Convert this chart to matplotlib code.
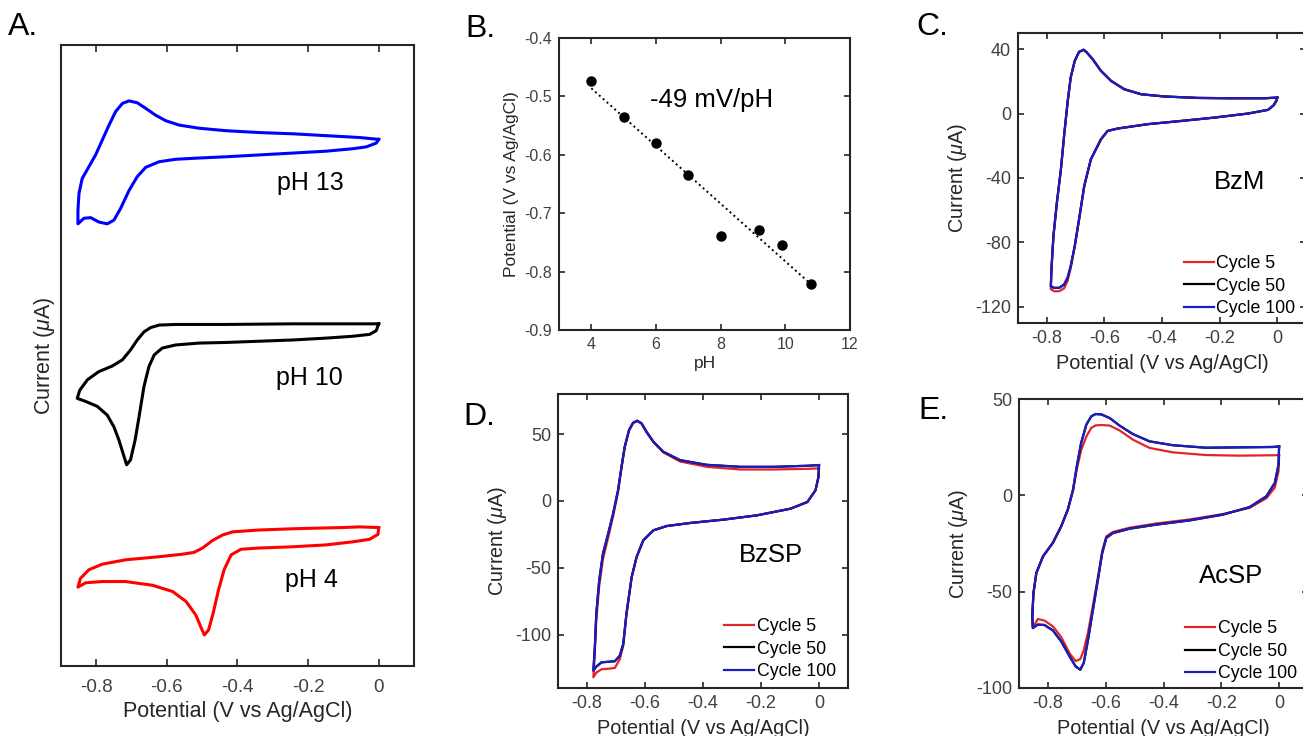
import numpy as np
import matplotlib
matplotlib.use('Agg')
import matplotlib.pyplot as plt

plt.rcParams['font.family'] = ['Liberation Sans', 'DejaVu Sans']
plt.rcParams['mathtext.fontset'] = 'custom'
plt.rcParams['mathtext.rm'] = 'Liberation Sans'
plt.rcParams['mathtext.it'] = 'Liberation Sans:italic'
plt.rcParams['axes.unicode_minus'] = False
plt.rcParams['lines.solid_joinstyle'] = 'round'

# ---- panel A: CVs at three pH values (current in arbitrary offset units)
a_e13 = [0.0, -0.054, -0.149, -0.243, -0.338, -0.433, -0.509, -0.565, -0.603, -0.632, -0.660,
         -0.684, -0.707, -0.726, -0.745, -0.764, -0.783, -0.802, -0.821, -0.840, -0.849, -0.852,
         -0.852, -0.835, -0.816, -0.793, -0.769, -0.750, -0.731, -0.707, -0.684, -0.660, -0.622,
         -0.575, -0.509, -0.433, -0.338, -0.243, -0.149, -0.073, -0.035, -0.007, 0.0]
a_i13 = [84.8, 85.1, 85.4, 85.7, 85.9, 86.2, 86.6, 87.1, 87.8, 88.7, 89.8, 90.7, 91.0, 90.6,
         89.3, 87.1, 84.7, 82.3, 80.4, 78.5, 76.1, 73.4, 71.2, 72.1, 72.2, 71.5, 71.2, 71.8,
         73.7, 76.6, 78.8, 80.3, 81.2, 81.6, 81.8, 82.0, 82.3, 82.6, 82.9, 83.3, 83.6, 84.2, 84.8]
a_e10 = [0.0, -0.054, -0.243, -0.433, -0.575, -0.622, -0.646, -0.665, -0.684, -0.703, -0.726,
         -0.755, -0.793, -0.825, -0.847, -0.854, -0.830, -0.797, -0.769, -0.750, -0.736, -0.724,
         -0.714, -0.703, -0.690, -0.679, -0.665, -0.651, -0.636, -0.613, -0.575, -0.509, -0.433,
         -0.338, -0.243, -0.149, -0.073, -0.026, -0.007, 0.0]
a_i10 = [55.1, 55.1, 55.1, 55.0, 55.0, 54.9, 54.5, 53.8, 52.5, 50.9, 49.3, 48.3, 47.4, 46.1,
         44.4, 43.1, 42.6, 41.8, 40.4, 38.5, 36.4, 34.2, 32.4, 33.2, 36.4, 40.1, 45.0, 48.2,
         50.1, 51.2, 51.7, 52.0, 52.1, 52.3, 52.5, 52.8, 53.1, 53.4, 54.0, 55.1]
a_e4 = [0.0, -0.054, -0.101, -0.243, -0.338, -0.414, -0.442, -0.471, -0.499, -0.523, -0.556,
        -0.622, -0.717, -0.783, -0.821, -0.845, -0.852, -0.830, -0.783, -0.717, -0.641, -0.584,
        -0.546, -0.518, -0.504, -0.494, -0.482, -0.469, -0.454, -0.438, -0.418, -0.390, -0.338,
        -0.243, -0.149, -0.073, -0.026, -0.002, 0.0]
a_i4 = [22.3, 22.4, 22.3, 22.1, 21.9, 21.6, 21.1, 20.2, 19.0, 18.3, 18.0, 17.6, 17.1, 16.4,
        15.5, 14.1, 12.7, 13.4, 13.6, 13.6, 13.0, 12.0, 10.4, 8.2, 6.3, 5.0, 5.8, 8.5, 12.2,
        15.5, 17.9, 18.8, 19.0, 19.2, 19.5, 20.0, 20.4, 21.2, 22.3]

# ---- panel B: peak potential vs pH
b_ph = [4, 5, 6, 7, 8, 9.2, 9.9, 10.8]
b_pot = [-0.473, -0.536, -0.580, -0.634, -0.739, -0.728, -0.755, -0.822]

# ---- panel C: BzM cycling
c_e = [0.0, -0.044, -0.160, -0.276, -0.392, -0.473, -0.531, -0.577, -0.612, -0.641, -0.661,
       -0.672, -0.688, -0.703, -0.717, -0.728, -0.740, -0.751, -0.765, -0.777, -0.784, -0.786,
       -0.774, -0.757, -0.740, -0.728, -0.717, -0.703, -0.688, -0.670, -0.647, -0.612, -0.589,
       -0.554, -0.450, -0.334, -0.218, -0.102, -0.032, -0.012, -0.003, 0.0]
c_i100 = [9.9, 9.5, 9.5, 9.7, 10.6, 12.0, 15.1, 20.3, 26.5, 33.8, 37.9, 39.6, 38.3, 32.7, 22.4,
          6.8, -13.9, -34.6, -55.3, -76.1, -96.8, -107.2, -108.2, -108.2, -106.1, -102.0, -94.7,
          -82.3, -65.7, -45.0, -28.4, -16.0, -10.8, -9.3, -6.6, -4.6, -2.5, 0.0, 2.3, 5.2, 7.9, 9.9]
c_i5 = [9.9, 9.5, 9.5, 9.7, 10.6, 12.0, 15.1, 20.3, 26.5, 33.8, 37.9, 39.6, 38.3, 32.7, 22.4,
        6.8, -13.9, -34.6, -55.3, -76.1, -97.5, -109.0, -110.3, -110.3, -108.5, -104.0, -96.0,
        -82.3, -65.7, -45.0, -28.4, -16.0, -10.8, -9.3, -6.6, -4.6, -2.5, 0.0, 2.3, 5.2, 7.9, 9.9]
c_i50 = list(c_i100)  # cycle 50 lies under cycle 100

# ---- panel D: BzSP cycling
d_e = [0.0, -0.040, -0.156, -0.271, -0.387, -0.479, -0.537, -0.571, -0.595, -0.612, -0.627,
       -0.641, -0.655, -0.670, -0.681, -0.693, -0.710, -0.727, -0.745, -0.758, -0.768, -0.773,
       -0.778, -0.768, -0.750, -0.722, -0.704, -0.687, -0.675, -0.664, -0.646, -0.629, -0.606,
       -0.571, -0.525, -0.444, -0.329, -0.214, -0.098, -0.040, -0.012, -0.002, 0.0]
d_i100 = [26.8, 26.3, 25.5, 25.5, 27.0, 30.5, 36.8, 44.3, 51.8, 58.0, 60.0, 58.5, 53.0, 40.5,
          25.5, 8.0, -9.5, -24.5, -39.5, -59.5, -84.5, -109.5, -127.0, -124.0, -120.8, -120.3,
          -120.0, -115.8, -107.0, -84.5, -57.0, -42.0, -29.5, -22.0, -18.8, -16.5, -14.0, -10.8,
          -5.8, -0.8, 8.0, 18.0, 26.8]
d_i5 = [24.3, 24.0, 23.5, 23.5, 25.5, 29.5, 36.3, 44.0, 51.5, 58.0, 59.8, 58.3, 52.8, 40.0,
        24.5, 6.5, -11.5, -27.5, -43.5, -64.0, -89.0, -113.0, -132.0, -128.5, -126.0, -125.5,
        -125.0, -118.5, -108.5, -85.0, -57.0, -42.0, -29.5, -22.0, -18.8, -16.5, -14.0, -10.8,
        -5.8, -0.8, 8.0, 17.0, 24.3]
d_i50 = list(d_i100)

# ---- panel E: AcSP cycling
e_e = [0.0, -0.021, -0.136, -0.252, -0.367, -0.448, -0.506, -0.552, -0.586, -0.615, -0.635,
       -0.650, -0.667, -0.685, -0.700, -0.713, -0.731, -0.754, -0.783, -0.817, -0.840, -0.850,
       -0.854, -0.852, -0.835, -0.812, -0.783, -0.754, -0.725, -0.704, -0.688, -0.676, -0.661,
       -0.644, -0.627, -0.612, -0.598, -0.575, -0.517, -0.425, -0.309, -0.194, -0.102, -0.044,
       -0.015, -0.002, 0.0]
e_i100 = [25.4, 25.1, 24.9, 24.7, 26.0, 28.0, 31.8, 36.2, 40.1, 42.0, 42.2, 41.0, 36.7, 27.2,
          15.1, 2.9, -7.4, -16.1, -24.7, -31.7, -40.3, -50.7, -62.8, -68.9, -67.1, -67.3, -70.1,
          -75.8, -83.6, -88.8, -90.5, -87.0, -74.9, -59.3, -43.8, -29.9, -22.1, -19.6, -17.3,
          -15.2, -13.0, -10.0, -6.1, -0.5, 6.4, 15.9, 25.4]
e_i5 = [20.9, 20.8, 20.6, 20.9, 22.3, 24.6, 28.9, 33.7, 36.2, 36.5, 36.3, 35.0, 30.5, 23.5,
        13.5, 2.5, -7.4, -16.1, -24.7, -31.7, -40.3, -50.7, -62.8, -68.9, -64.2, -65.0, -68.0,
        -73.5, -82.0, -86.0, -85.0, -80.5, -71.0, -57.0, -42.5, -29.0, -21.3, -19.0, -16.8,
        -14.6, -12.5, -9.7, -6.5, -1.5, 4.0, 12.5, 20.9]
e_i50 = list(e_i100)

cycle_labels = ['Cycle 5', 'Cycle 50', 'Cycle 100']
pot_ticks = [-0.8, -0.6, -0.4, -0.2, 0]
pot_labels = ['-0.8', '-0.6', '-0.4', '-0.2', '0']

SPINE = '#262626'
TICKC = '#404040'
RED = '#e0262b'
BLUE = '#1c1cc0'

W, H = 1303, 736
fig = plt.figure(figsize=(W / 100, H / 100), dpi=100)


def box(l, t, r, b):
    return [l / W, 1 - b / H, (r - l) / W, (b - t) / H]


def style(ax, fs):
    for s in ax.spines.values():
        s.set_color(SPINE)
        s.set_linewidth(1.5)
    ax.tick_params(direction='in', top=True, right=True, length=4, width=1.2,
                   color=SPINE, labelcolor=TICKC, labelsize=fs, pad=5)


def panel_label(x, y, s):
    fig.text(x / W, 1 - y / H, s, fontsize=23, va='top', ha='left',
             family=['Liberation Sans Narrow', 'Liberation Sans', 'DejaVu Sans'])


# A
axA = fig.add_axes(box(61, 45, 414, 666))
axA.plot(a_e13, a_i13, color='#0000ff', lw=2.2)
axA.plot(a_e10, a_i10, color='black', lw=2.2)
axA.plot(a_e4, a_i4, color='#ff0000', lw=2.2)
axA.set_xlim(-0.9, 0.1)
axA.set_ylim(0, 100)
axA.set_xticks(pot_ticks)
axA.set_xticklabels(pot_labels)
axA.set_yticks([])
style(axA, 13.5)
axA.tick_params(left=False, right=False, length=5, pad=9)
axA.set_xlabel('Potential (V vs Ag/AgCl)', fontsize=15.5, color=SPINE, labelpad=4)
axA.set_ylabel(r'Current ($\mu$A)', fontsize=15.5, color=SPINE, labelpad=3)
axA.text(-0.193, 77.8, 'pH 13', fontsize=18, ha='center', va='center')
axA.text(-0.196, 46.4, 'pH 10', fontsize=18, ha='center', va='center')
axA.text(-0.191, 13.8, 'pH 4', fontsize=18, ha='center', va='center')

# B
axB = fig.add_axes(box(559, 38, 850, 330))
fit = np.polyfit(b_ph, b_pot, 1)
xf = np.array([b_ph[0], b_ph[-1]])
axB.plot(xf, np.polyval(fit, xf), ls=':', color='black', lw=1.4)
axB.plot(b_ph, b_pot, 'o', color='black', ms=6.5)
axB.set_xlim(3, 12)
axB.set_ylim(-0.9, -0.4)
axB.set_xticks([4, 6, 8, 10, 12])
axB.set_yticks([-0.9, -0.8, -0.7, -0.6, -0.5, -0.4])
axB.set_yticklabels(['-0.9', '-0.8', '-0.7', '-0.6', '-0.5', '-0.4'])
style(axB, 11.5)
axB.set_xlabel('pH', fontsize=12.5, color=SPINE, labelpad=3)
axB.set_ylabel('Potential (V vs Ag/AgCl)', fontsize=12.5, color=SPINE, labelpad=4)
axB.text(5.8, -0.506, '-49 mV/pH', fontsize=18.5, ha='left', va='center')


def cycling(rect, e, i5, i50, i100, ylim, yticks, name, name_xy, leg_xy):
    ax = fig.add_axes(rect)
    ax.plot(e, i5, color=RED, lw=1.6, label=cycle_labels[0])
    ax.plot(e, i50, color='black', lw=1.6, label=cycle_labels[1])
    ax.plot(e, i100, color=BLUE, lw=1.6, label=cycle_labels[2])
    ax.set_xlim(-0.9, 0.1)
    ax.set_ylim(*ylim)
    ax.set_xticks(pot_ticks)
    ax.set_xticklabels(pot_labels)
    ax.set_yticks(yticks)
    ax.set_yticklabels([str(v) for v in yticks])
    style(ax, 13)
    ax.set_xlabel('Potential (V vs Ag/AgCl)', fontsize=14.3, color=SPINE, labelpad=5)
    ax.set_ylabel(r'Current ($\mu$A)', fontsize=14.3, color=SPINE, labelpad=4)
    ax.text(name_xy[0], name_xy[1], name, fontsize=18.5, ha='center', va='center')
    ax.legend(loc='upper left', bbox_to_anchor=leg_xy, frameon=False, fontsize=12.8,
              handlelength=1.7, handletextpad=0.15, labelspacing=0.32, borderpad=0,
              borderaxespad=0)
    return ax


cycling(box(1018, 33, 1306, 323), c_e, c_i5, c_i50, c_i100, (-130, 50),
        [-120, -80, -40, 0, 40], 'BzM', (-0.13, -42.7), (0.575, 0.235))
cycling(box(558, 394, 848, 688), d_e, d_i5, d_i50, d_i100, (-140, 80),
        [-100, -50, 0, 50], 'BzSP', (-0.167, -40.7), (0.572, 0.238))
cycling(box(1019, 399, 1308, 688), e_e, e_i5, e_i50, e_i100, (-100, 50),
        [-100, -50, 0, 50], 'AcSP', (-0.165, -42), (0.575, 0.235))

panel_label(8, 12, 'A.')
panel_label(465, 14, 'B.')
panel_label(916, 12, 'C.')
panel_label(463, 402, 'D.')
panel_label(918, 396, 'E.')

plt.savefig('out.png', dpi=100)
plt.close()
